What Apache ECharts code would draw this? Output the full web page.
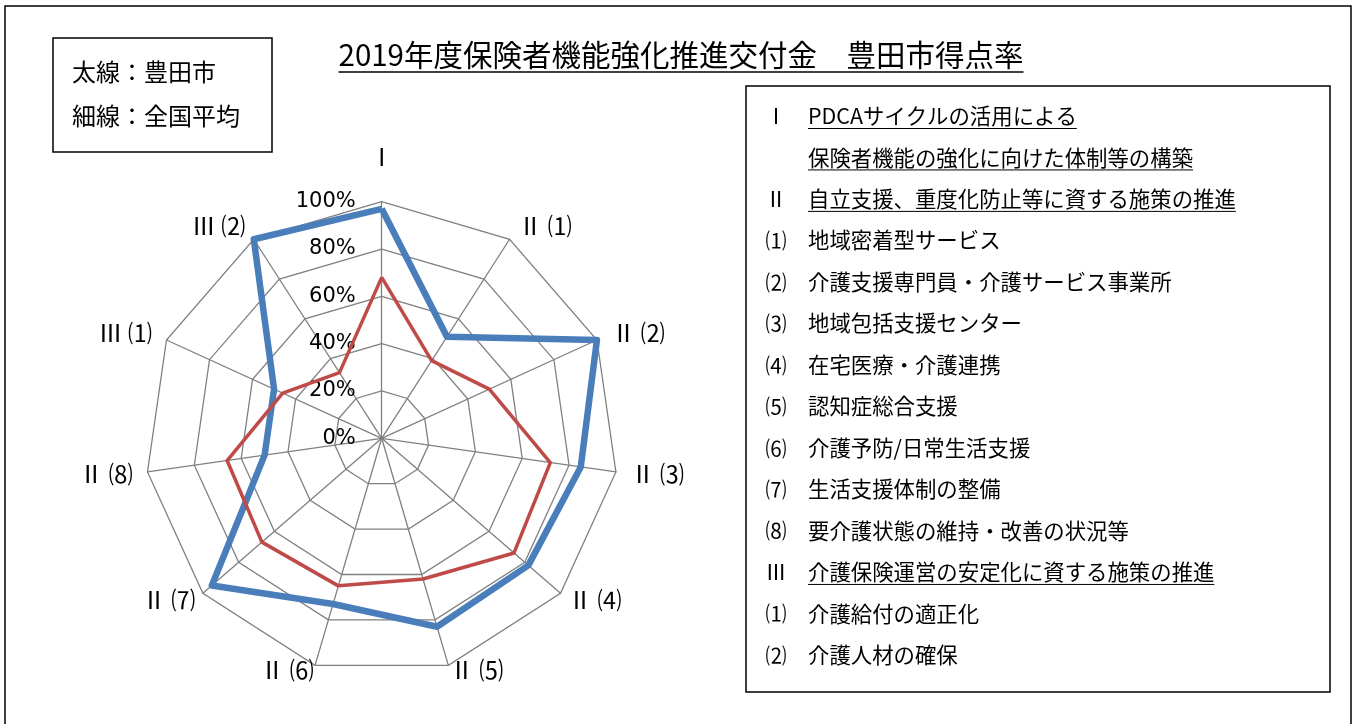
<!DOCTYPE html>
<html><head><meta charset="utf-8">
<script src="https://cdn.jsdelivr.net/npm/echarts@6/dist/echarts.min.js"></script>
<style>html,body{margin:0;padding:0;background:#fff}#c{width:1358px;height:724px}</style>
</head><body><div id="c"></div>
<script>
// ---- data (clockwise from top) ----
const categories = ['Ⅰ', 'Ⅱ ⑴', 'Ⅱ ⑵', 'Ⅱ ⑶', 'Ⅱ ⑷', 'Ⅱ ⑸', 'Ⅱ ⑹', 'Ⅱ ⑺', 'Ⅱ ⑻', 'Ⅲ ⑴', 'Ⅲ ⑵'];
const toyotaValues   = [0.97, 0.51, 1.00, 0.85, 0.82, 0.83, 0.73, 0.95, 0.50, 0.50, 1.00];
const nationalValues = [0.68, 0.39, 0.50, 0.72, 0.74, 0.62, 0.65, 0.67, 0.66, 0.46, 0.33];
const seriesNames = ['豊田市', '全国平均'];
const axisMax = 1;
const axisSplits = 5;
const titleText = '2019年度保険者機能強化推進交付金　豊田市得点率';
const legendLines = ['太線：豊田市', '細線：全国平均'];
const noteMarks = ['Ⅰ', '', 'Ⅱ', '⑴', '⑵', '⑶', '⑷', '⑸', '⑹', '⑺', '⑻', 'Ⅲ', '⑴', '⑵'];
const noteTexts = ['PDCAサイクルの活用による', '保険者機能の強化に向けた体制等の構築', '自立支援、重度化防止等に資する施策の推進',
  '地域密着型サービス', '介護支援専門員・介護サービス事業所', '地域包括支援センター', '在宅医療・介護連携',
  '認知症総合支援', '介護予防/日常生活支援', '生活支援体制の整備', '要介護状態の維持・改善の状況等',
  '介護保険運営の安定化に資する施策の推進', '介護給付の適正化', '介護人材の確保'];
const noteUnderlined = [true, true, true, false, false, false, false, false, false, false, false, true, false, false];

// ---- layout (not data): label gap per axis, clockwise from top ----
const nameGaps = [33, 16, 16, 15, 10, 5, 5, 10, 15, 16, 16];

// ---- helpers ----
const JP = '"Noto Sans CJK JP", "Noto Sans", sans-serif';
const mctx = document.createElement('canvas').getContext('2d');
function textWidth(str, size, fam) { mctx.font = size + 'px ' + (fam || JP); return mctx.measureText(str).width; }

// ECharts radar runs counter-clockwise; reorder so the chart reads clockwise
function toCCW(arr) { return [arr[0]].concat(arr.slice(1).reverse()); }
const cats = toCCW(categories);
const gaps = toCCW(nameGaps);
const indicator = cats.map((c, i) => {
  const o = { name: c, max: axisMax, min: 0, nameGap: gaps[i] };
  if (i === 0) {
    o.axisLabel = { show: true, color: '#000', fontSize: 21, fontFamily: '"DejaVu Sans", Verdana, sans-serif', margin: 26,
      formatter: v => Math.round(v * 100) + '%' };
  }
  return o;
});

const graphics = [];
// outer frame
graphics.push({ type: 'rect', shape: { x: 5, y: 6, width: 1346, height: 740 }, style: { fill: 'none', stroke: '#000', lineWidth: 1.5 }, silent: true });
// legend box
graphics.push({ type: 'rect', shape: { x: 53, y: 38, width: 219, height: 114 }, style: { fill: '#fff', stroke: '#000', lineWidth: 1.5 } });
legendLines.forEach((t, i) => graphics.push({ type: 'text', x: 72, y: 72 + i * 44,
  style: { text: t, fontSize: 24, fontFamily: JP, fill: '#000', verticalAlign: 'middle', align: 'left' } }));
// title
const tw = textWidth(titleText, 29.5);
graphics.push({ type: 'text', x: 681, y: 55, style: { text: titleText, fontSize: 29.5, fontFamily: JP, fill: '#000', align: 'center', verticalAlign: 'middle' } });
graphics.push({ type: 'line', shape: { x1: 681 - tw / 2, y1: 72, x2: 681 + tw / 2, y2: 72 }, style: { stroke: '#000', lineWidth: 1.5 } });
// notes box
graphics.push({ type: 'rect', shape: { x: 746, y: 86, width: 584, height: 606 }, style: { fill: '#fff', stroke: '#000', lineWidth: 1.5 } });
noteTexts.forEach((t, i) => {
  const y = 116 + i * 41.45;
  if (noteMarks[i]) graphics.push({ type: 'text', x: 776, y: y, style: { text: noteMarks[i], fontSize: 21, fontFamily: JP, fill: '#000', align: 'center', verticalAlign: 'middle' } });
  graphics.push({ type: 'text', x: 808, y: y, style: { text: t, fontSize: 21.4, fontFamily: JP, fill: '#000', align: 'left', verticalAlign: 'middle' } });
  if (noteUnderlined[i]) {
    const w = textWidth(t, 21.4);
    graphics.push({ type: 'line', shape: { x1: 808, y1: y + 12.5, x2: 808 + w, y2: y + 12.5 }, style: { stroke: '#000', lineWidth: 1 } });
  }
});

const chart = echarts.init(document.getElementById('c'), null, { renderer: 'canvas' });
chart.setOption({
  animation: false,
  backgroundColor: '#fff',
  graphic: graphics,
  radar: {
    center: [381.7, 438.3],
    radius: 236.6,
    startAngle: 90,
    splitNumber: axisSplits,
    shape: 'polygon',
    indicator: indicator,
    nameGap: 16,
    axisName: { color: '#000', fontSize: 24, fontFamily: JP },
    axisLine: { lineStyle: { color: '#808080', width: 1.3 } },
    splitLine: { lineStyle: { color: '#808080', width: 1.3 } },
    splitArea: { show: false },
    axisTick: { show: false },
    axisLabel: { show: false }
  },
  series: [{
    type: 'radar',
    symbol: 'none',
    data: [
      { name: seriesNames[0], value: toCCW(toyotaValues), lineStyle: { color: '#4A7EBB', width: 6.5, join: 'round' } },
      { name: seriesNames[1], value: toCCW(nationalValues), lineStyle: { color: '#BE4B48', width: 3.5, join: 'round' } }
    ]
  }]
});
</script></body></html>
